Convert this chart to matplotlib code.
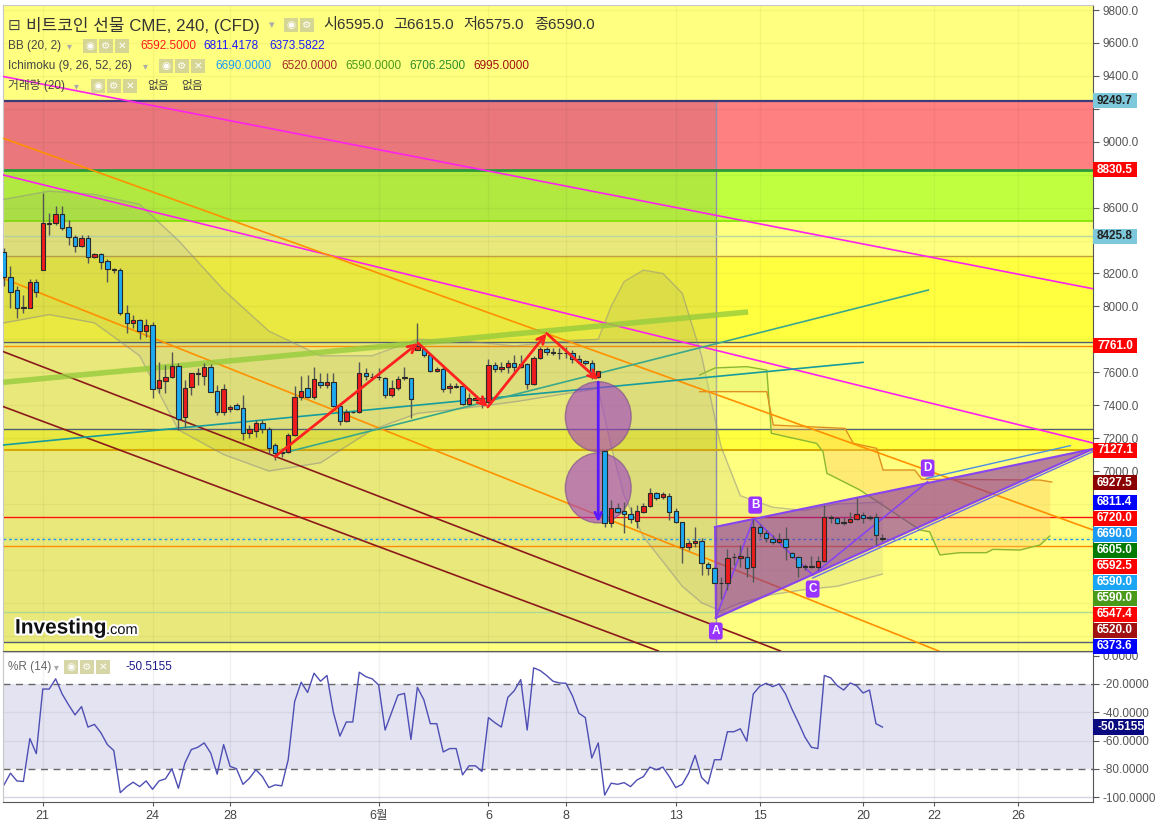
import numpy as np
import matplotlib.pyplot as plt
from matplotlib.patches import Rectangle, Ellipse, Polygon
import matplotlib.patheffects as pe

plt.rcParams['font.family'] = ['Liberation Sans', 'Noto Sans CJK KR', 'DejaVu Sans']

# 4h candles, Bitcoin futures CME (index 1..137)
opens = [8332, 8176, 8099, 7995, 7988, 8146, 8221, 8504, 8504, 8559,
         8484, 8419, 8367, 8413, 8298, 8318, 8275, 8223, 8221, 7958,
         7897, 7917, 7852, 7887, 7502, 7548, 7569, 7638, 7326, 7508,
         7593, 7577, 7629, 7486, 7356, 7374, 7399, 7380, 7228, 7245,
         7289, 7253, 7158, 7113, 7117, 7218, 7447, 7502, 7447, 7542,
         7522, 7542, 7397, 7305, 7356, 7356, 7597, 7569, 7569, 7567,
         7461, 7502, 7565, 7563, 7735, 7739, 7705, 7607, 7617, 7502,
         7512, 7516, 7407, 7431, 7441, 7419, 7642, 7617, 7630, 7654,
         7630, 7648, 7526, 7684, 7739, 7725, 7715, 7715, 7715, 7678,
         7668, 7654, 7569, 7123, 6682, 6773, 6757, 6739, 6698, 6753,
         6787, 6864, 6840, 6848, 6757, 6692, 6536, 6561, 6575, 6433,
         6409, 6318, 6318, 6475, 6469, 6480, 6415, 6658, 6621, 6585,
         6571, 6585, 6500, 6475, 6415, 6419, 6419, 6453, 6723, 6712,
         6686, 6692, 6706, 6733, 6712, 6723, 6595]
highs = [8352, 8245, 8124, 8069, 8166, 8166, 8686, 8565, 8610, 8610,
         8524, 8433, 8433, 8433, 8326, 8322, 8286, 8231, 8231, 8008,
         7947, 7921, 7921, 7907, 7664, 7644, 7725, 7654, 7552, 7597,
         7623, 7654, 7650, 7522, 7528, 7401, 7411, 7461, 7279, 7309,
         7309, 7269, 7168, 7137, 7232, 7516, 7577, 7583, 7629, 7593,
         7593, 7593, 7411, 7374, 7360, 7664, 7623, 7593, 7623, 7573,
         7552, 7580, 7634, 7563, 7901, 7755, 7715, 7634, 7634, 7532,
         7532, 7522, 7472, 7461, 7456, 7678, 7664, 7664, 7674, 7705,
         7705, 7654, 7699, 7755, 7755, 7745, 7745, 7751, 7735, 7705,
         7674, 7674, 7609, 7123, 6824, 6803, 6813, 6783, 6793, 6803,
         6895, 6874, 6874, 6864, 6773, 6692, 6581, 6662, 6591, 6449,
         6419, 6358, 6524, 6500, 6550, 6540, 6706, 6678, 6642, 6611,
         6621, 6662, 6510, 6484, 6435, 6484, 6484, 6793, 6733, 6718,
         6723, 6753, 6834, 6753, 6733, 6743, 6615]
lows = [8124, 7988, 7927, 7957, 7988, 8059, 8221, 8433, 8494, 8464,
        8373, 8332, 8362, 8261, 8292, 8225, 8150, 8200, 7947, 7836,
        7866, 7800, 7816, 7441, 7471, 7471, 7563, 7249, 7269, 7461,
        7522, 7522, 7482, 7340, 7340, 7360, 7370, 7188, 7198, 7208,
        7228, 7107, 7066, 7087, 7107, 7212, 7431, 7441, 7435, 7502,
        7502, 7391, 7279, 7299, 7350, 7350, 7552, 7552, 7552, 7441,
        7451, 7490, 7553, 7320, 7735, 7694, 7603, 7603, 7482, 7472,
        7502, 7401, 7401, 7431, 7381, 7415, 7603, 7603, 7593, 7603,
        7624, 7496, 7522, 7678, 7705, 7705, 7678, 7684, 7654, 7654,
        7644, 7557, 7563, 6662, 6662, 6743, 6621, 6682, 6652, 6743,
        6779, 6824, 6828, 6702, 6682, 6439, 6520, 6540, 6368, 6368,
        6318, 6220, 6277, 6429, 6419, 6358, 6328, 6597, 6571, 6557,
        6561, 6459, 6469, 6358, 6399, 6409, 6399, 6449, 6682, 6678,
        6672, 6686, 6702, 6682, 6702, 6550, 6575]
closes = [8180, 8085, 7992, 7990, 8146, 8089, 8504, 8500, 8559, 8474,
          8419, 8367, 8413, 8298, 8318, 8271, 8225, 8221, 7958, 7897,
          7917, 7852, 7887, 7496, 7552, 7573, 7638, 7314, 7502, 7593,
          7591, 7629, 7482, 7356, 7496, 7390, 7374, 7233, 7253, 7289,
          7253, 7137, 7111, 7111, 7216, 7451, 7486, 7447, 7557, 7522,
          7542, 7397, 7303, 7356, 7358, 7597, 7577, 7569, 7569, 7461,
          7502, 7559, 7567, 7435, 7759, 7705, 7607, 7620, 7496, 7516,
          7512, 7407, 7441, 7441, 7419, 7642, 7617, 7630, 7654, 7630,
          7650, 7526, 7684, 7739, 7725, 7715, 7715, 7715, 7678, 7664,
          7654, 7569, 7605, 6682, 6773, 6753, 6739, 6706, 6757, 6787,
          6864, 6834, 6860, 6753, 6692, 6536, 6561, 6575, 6439, 6409,
          6318, 6320, 6469, 6477, 6484, 6409, 6658, 6621, 6591, 6571,
          6585, 6536, 6475, 6419, 6423, 6423, 6453, 6723, 6712, 6686,
          6692, 6706, 6737, 6712, 6723, 6611, 6590]

# Williams %R (14)
williams_r = [-91.4, -83.1, -88.6, -89.0, -58.6, -69.3, -23.6, -23.6, -16.4, -27.1,
              -34.8, -41.9, -36.0, -50.5, -48.6, -54.5, -62.9, -67.1, -96.9, -92.6,
              -89.5, -92.6, -88.6, -94.5, -88.6, -87.1, -80.0, -93.8, -76.0, -66.4,
              -64.8, -61.7, -68.8, -83.8, -62.9, -78.3, -80.0, -91.0, -86.7, -80.7,
              -85.5, -93.3, -91.4, -92.1, -73.6, -32.4, -18.8, -26.0, -12.4, -18.1,
              -14.0, -40.2, -56.9, -46.9, -46.9, -11.7, -14.8, -16.4, -20.7, -52.6,
              -40.2, -27.9, -26.7, -59.3, -22.4, -31.2, -48.1, -48.1, -68.1, -65.7,
              -65.7, -84.3, -77.9, -77.9, -81.9, -43.8, -47.4, -50.5, -29.5, -24.8,
              -16.9, -52.6, -8.6, -10.5, -14.0, -18.1, -19.3, -19.5, -28.3, -40.7,
              -43.8, -72.4, -61.7, -98.6, -90.2, -91.0, -89.8, -92.6, -87.9, -85.5,
              -78.8, -80.7, -78.8, -85.5, -93.3, -91.0, -83.1, -70.5, -86.2, -90.7,
              -73.6, -73.6, -53.8, -53.8, -51.7, -60.5, -27.1, -21.7, -19.5, -21.9,
              -20.0, -27.1, -37.9, -47.4, -57.6, -64.8, -65.7, -14.0, -15.7, -21.2,
              -24.3, -19.3, -21.2, -26.4, -24.3, -48.1, -50.5]

# Bollinger band (20, 2), read at some candles
bb_idx = [1, 8, 15, 22, 28, 35, 42, 50, 58, 65, 72, 80, 88, 93, 95, 97, 100, 103, 106, 109, 112, 115, 120, 125, 130, 137]
bb_upper = [8650, 8700, 8680, 8620, 8400, 8100, 7850, 7700, 7700, 7800, 7790, 7760, 7790, 7800,
            8000, 8150, 8220, 8200, 8080, 7700, 7150, 6850, 6780, 6760, 6800, 6811]
bb_lower = [7900, 7950, 7900, 7700, 7250, 7100, 7000, 7050, 7250, 7350, 7380, 7420, 7470, 7500,
            7150, 6850, 6600, 6450, 6300, 6200, 6150, 6200, 6250, 6280, 6300, 6374]

# Ichimoku leading spans (shifted forward)
span_a_idx = [108.7, 111.1, 116.0, 119.1, 119.8, 122.2, 126.8, 127.8, 128.4, 133.5, 142.8, 144.3,
              145.9, 149.0, 153.1, 154.1, 158.3, 161.4, 162.9]
span_a = [7583, 7626, 7634, 7613, 7229, 7208, 7168, 7117, 6986, 6885, 6642, 6631,
          6490, 6504, 6504, 6524, 6520, 6551, 6605]
span_b_idx = [108.7, 119.1, 120.1, 131.2, 132.5, 136.1, 137.1, 142.0, 143.1, 161.4, 163.2]
span_b = [7482, 7482, 7279, 7259, 7168, 7138, 7006, 7006, 6950, 6945, 6933]

# drawn trend lines (candle index, price)
magenta_hi = [(0.38, 9400), (169.6, 8107)]
magenta_lo = [(0.89, 8798), (169.6, 7170)]
orange_hi = [(0.89, 9021), (169.6, 6642)]
orange_lo = [(0.89, 8170), (145.7, 5907)]
brown_hi = [(0.89, 7725), (121.2, 5907)]
brown_lo = [(0.89, 7391), (102.3, 5907)]
teal_lo = [(0.89, 7158), (134.0, 7660)]
teal_hi = [(44.2, 7109), (144.1, 8099)]
green_thick = [(0.89, 7539), (116.2, 7966)]
zigzag = [(42.95, 7087), (65.1, 7777), (75.9, 7389), (85.0, 7836), (93.0, 7553)]
gap_arrow = [(93.0, 7540), (93.0, 6690)]
circle_centers = [(93.0, 7330), (93.0, 6897)]
wedge = [(111.06, 6660), (169.6, 7134), (111.2, 6107)]
abcd = {'A': (111.2, 6107), 'B': (117.1, 6713), 'C': (126.2, 6368), 'D': (144.0, 6935)}
abcd_label = {'A': (111.2, 6028), 'B': (117.3, 6793), 'C': (126.2, 6283), 'D': (144.0, 7018)}

# horizontal levels
levels = [(9249.7, '#3c3c78', 1.6), (8830.5, '#2a9a3a', 2.0), (8518.5, '#7fe000', 1.2),
          (8425.8, '#b8d8a0', 1.0), (8304, '#c0a040', 1.0), (7785, '#506070', 1.0),
          (7761, '#ff8c00', 1.0), (7253, '#506070', 1.0), (7127.1, '#d8a800', 1.5),
          (6720, '#ff1010', 1.0), (6547.4, '#ff8c00', 1.0), (6145, '#b0d890', 1.0),
          (5964, '#506070', 1.0)]

right_labels = [(9249.7, '9249.7', '#7ec8dc', '#222222'), (8830.5, '8830.5', '#ff0000', 'white'),
                (8425.8, '8425.8', '#7ec8dc', '#222222'), (7761.0, '7761.0', '#ff0000', 'white'),
                (7127.1, '7127.1', '#ff0000', 'white'), (6927.5, '6927.5', '#8b0000', 'white'),
                (6811.4, '6811.4', '#0000ff', 'white'), (6720.0, '6720.0', '#ff0000', 'white'),
                (6690.0, '6690.0', '#1a9af5', 'white'), (6605.0, '6605.0', '#007a00', 'white'),
                (6592.5, '6592.5', '#ff0000', 'white'), (6590.0, '6590.0', '#1aa6f5', 'white'),
                (6589.9, '6590.0', '#4a9a1a', 'white'), (6547.4, '6547.4', '#ff0000', 'white'),
                (6520.0, '6520.0', '#a01010', 'white'), (6373.6, '6373.6', '#0000ff', 'white')]

date_pos = [7, 24, 36, 59, 76, 88, 105, 118, 134, 145, 158]
date_labels = ['21', '24', '28', '6월', '6', '8', '13', '15', '20', '22', '26']

W, H = 1160, 823
fig = plt.figure(figsize=(W / 100, H / 100), dpi=100)
fig.patch.set_facecolor('white')
ax = fig.add_axes([3 / W, 1 - 651 / H, 1090 / W, 646 / H])
axr = fig.add_axes([3 / W, 1 - 802 / H, 1090 / W, 150 / H], sharex=ax)

x = np.arange(1, len(opens) + 1)
o = np.array(opens); c = np.array(closes); hi = np.array(highs); lo = np.array(lows)

ax.set_xlim(0.845, 169.6)
ax.set_ylim(5906.7, 9830.5)

# background bands
ax.set_facecolor('#ffff80')
ax.axhspan(8830.5, 9249.7, color='#ff8080', zorder=0, lw=0)
ax.axhspan(8518.5, 8830.5, color='#c0ff40', zorder=0, lw=0)
ax.axhspan(7785, 8304, color='#ffff40', zorder=0, lw=0)
ax.axhspan(7127.1, 7253, color='#ffff40', zorder=0, lw=0)
ax.add_patch(Rectangle((0.845, 5964), 111.2 - 0.845, 9249.7 - 5964, fc='#303050', alpha=0.1, ec='none', zorder=0.5))
ax.plot([111.2, 111.2], [5964, 9249.7], color='#9090b0', lw=1, zorder=0.6)

for p in np.arange(6000, 9801, 200):
    ax.axhline(p, color='#000000', alpha=0.04, lw=1, zorder=0.7)
for d in date_pos:
    ax.axvline(d, color='#000000', alpha=0.04, lw=1, zorder=0.7)

for lv, col, lw in levels:
    ax.axhline(lv, color=col, lw=lw, zorder=2)
ax.axhline(6590, color='#2299ee', lw=1, ls=(0, (2, 2)), zorder=2)

# Bollinger band
ax.fill_between(bb_idx, bb_lower, bb_upper, color='#808080', alpha=0.11, lw=0, zorder=3)
ax.plot(bb_idx, bb_upper, color='#8a8a8a', alpha=0.5, lw=1, zorder=3)
ax.plot(bb_idx, bb_lower, color='#8a8a8a', alpha=0.5, lw=1, zorder=3)

# Ichimoku cloud
g = np.linspace(108.7, 162.9, 500)
ga = np.interp(g, span_a_idx, span_a)
gb = np.interp(g, span_b_idx, span_b)
ax.fill_between(g, ga, gb, where=gb >= ga, color='#ffc860', alpha=0.35, lw=0, zorder=3)
ax.fill_between(g, ga, gb, where=ga > gb, color='#d8f070', alpha=0.35, lw=0, zorder=3)
ax.plot(span_a_idx, span_a, color='#8ab830', lw=1, zorder=3)
ax.plot(span_b_idx, span_b, color='#e09020', lw=1, zorder=3)


# trend lines
def seg(pts, **kw):
    ax.plot([p[0] for p in pts], [p[1] for p in pts], **kw)


seg(magenta_hi, color='#ff22ee', lw=1.2, zorder=4)
seg(magenta_lo, color='#ff22ee', lw=1.2, zorder=4)
seg(orange_hi, color='#ff9000', lw=1.2, zorder=4)
seg(orange_lo, color='#ff9000', lw=1.2, zorder=4)
seg(brown_hi, color='#8b1a1a', lw=1.2, zorder=4)
seg(brown_lo, color='#8b1a1a', lw=1.2, zorder=4)
seg(teal_lo, color='#169c9c', lw=1.2, zorder=4)
seg(teal_hi, color='#3aa88a', lw=1.2, zorder=4)
seg(green_thick, color='#96cc3c', lw=4, alpha=0.8, zorder=4, solid_capstyle='butt')

# wedge ABCD
ax.add_patch(Polygon(wedge, closed=True, fc='#7f1ea5', alpha=0.55, ec='none', zorder=5))
seg([wedge[0], wedge[1]], color='#8844ee', lw=1.5, zorder=5)
seg([wedge[2], wedge[1]], color='#8844ee', lw=1.5, zorder=5)
seg([wedge[0], wedge[2]], color='#8844ee', lw=1.2, zorder=5)
seg([(143.8, 6955), (166.1, 7154)], color='#4a90e2', lw=1, zorder=5)
seg([(126.2, 6350), (169.6, 7118)], color='#6a70e8', lw=1, zorder=5)
seg([abcd['A'], abcd['B'], abcd['C'], abcd['D']], color='#8844ee', lw=1.2, zorder=5)

# gap circles
for cc in circle_centers:
    ax.add_patch(Ellipse(cc, 10.2, 425, fc='#a03cc8', alpha=0.6, ec='#7a4a8a', lw=1, zorder=5))

# candles
up = c >= o
body_lo = np.minimum(o, c)
body_h = np.maximum(np.abs(c - o), 4)
ax.vlines(x, lo, hi, color='#555555', lw=1, zorder=6)
ax.bar(x, body_h, bottom=body_lo, width=0.68, color=np.where(up, '#ee1c1c', '#1eaaf0'),
       edgecolor='#2a2a2a', lw=0.8, zorder=7)

# red zigzag arrows
for a, b in zip(zigzag[:-1], zigzag[1:]):
    ax.annotate('', xy=b, xytext=a, zorder=8,
                arrowprops=dict(arrowstyle='->', color='#ff2020', lw=2, mutation_scale=14, shrinkA=0, shrinkB=0))
ax.annotate('', xy=gap_arrow[1], xytext=gap_arrow[0], zorder=8,
            arrowprops=dict(arrowstyle='->', color='#5a1aff', lw=2, mutation_scale=12, shrinkA=0, shrinkB=0))

for k, (lx, ly) in abcd_label.items():
    ax.text(lx, ly, k, ha='center', va='center', color='white', fontsize=8.5, weight='bold', zorder=9,
            bbox=dict(boxstyle='round,pad=0.22', fc='#9933ff', ec='none'))

# right price labels (stacked so they don't overlap)
box_y = []
prev = -1e9
for val, s, bg, fg in sorted(right_labels, key=lambda r: -r[0]):
    yp = H - ax.transData.transform((1, val))[1]
    yp = max(yp, prev + 16)
    prev = yp
    box_y.append(yp)
    fig.add_artist(Rectangle((1093 / W, 1 - (yp + 7.5) / H), 44 / W, 15 / H, transform=fig.transFigure,
                             fc=bg, ec='none', zorder=10))
    fig.text(1097 / W, 1 - yp / H, s, ha='left', va='center', color=fg, fontsize=8.5, weight='bold', zorder=11)

# axes styling
ticks = np.arange(6000, 9801, 200)
tick_labels = []
for v in ticks:
    tp = H - ax.transData.transform((1, v))[1]
    hidden = any(abs(tp - b) < 10.5 for b in box_y)
    tick_labels.append('' if hidden else '%.1f' % v)
ax.yaxis.tick_right()
ax.set_yticks(ticks)
ax.set_yticklabels(tick_labels)
ax.tick_params(axis='y', labelsize=8.5, labelcolor='#555555', color='#555555', length=4, pad=3)
ax.tick_params(axis='x', bottom=False, labelbottom=False)
for s in ['top', 'left']:
    ax.spines[s].set_color('#c8c8c8')
for s in ['right', 'bottom']:
    ax.spines[s].set_color('#555555')

# %R panel
axr.set_ylim(-103.5, 2.6)
axr.set_facecolor('white')
axr.axhspan(-80, -20, color='#e3e3f1', lw=0, zorder=0)
for v in [-40, -60, -100]:
    axr.axhline(v, color='#d6d6e4', lw=1, zorder=0.5)
for d in date_pos:
    axr.axvline(d, color='#000000', alpha=0.05, lw=1, zorder=0.5)
axr.axhline(-20, color='#666666', lw=1, ls=(0, (5, 4)), zorder=1)
axr.axhline(-80, color='#666666', lw=1, ls=(0, (5, 4)), zorder=1)
axr.plot(x, williams_r, color='#4e4eb4', lw=1, zorder=2)
axr.yaxis.tick_right()
axr.set_yticks([0, -20, -40, -60, -80, -100])
axr.set_yticklabels(['0.0000', '-20.0000', '-40.0000', '-60.0000', '-80.0000', '-100.0000'])
axr.tick_params(axis='y', labelsize=8.5, labelcolor='#555555', color='#555555', length=4, pad=3)
axr.set_xticks(date_pos)
axr.set_xticklabels(date_labels)
axr.tick_params(axis='x', labelsize=9, labelcolor='#444444', color='#555555', length=3, pad=3)
for s in ['top', 'left']:
    axr.spines[s].set_color('#c8c8c8')
for s in ['right', 'bottom']:
    axr.spines[s].set_color('#555555')
yp = H - axr.transData.transform((1, williams_r[-1]))[1]
fig.add_artist(Rectangle((1093 / W, 1 - (yp + 8) / H), 51 / W, 16 / H, transform=fig.transFigure,
                         fc='#0a0a80', ec='none', zorder=10))
fig.text(1097 / W, 1 - yp / H, '-50.5155', ha='left', va='center', color='white', fontsize=8.5,
         weight='bold', zorder=11)


# header legend
def txt(xp, yp, s, **kw):
    fig.text(xp / W, 1 - yp / H, s, va='center', ha='left', **kw)


def icons(xp, yp, n):
    glyphs = ['◉', '⚙', '✕']
    for k in range(n):
        fig.add_artist(Rectangle(((xp + k * 16) / W, 1 - (yp + 7) / H), 14 / W, 14 / H,
                                 transform=fig.transFigure, fc='#cfcf98', ec='none', alpha=0.85, zorder=11))
        fig.text((xp + k * 16 + 7) / W, 1 - yp / H, glyphs[k], ha='center', va='center', color='white',
                 fontsize=7.5, family='DejaVu Sans', zorder=12)


txt(8, 25, '⊟', fontsize=11, color='#444444', family=['DejaVu Sans'])
txt(26, 25, '비트코인 선물 CME, 240, (CFD)', fontsize=12.2, color='#333333')
txt(269, 25, '▾', fontsize=8, color='#aaaaaa', family=['DejaVu Sans'])
icons(284, 25, 2)
for xp, s in [(323, '시6595.0'), (393, '고6615.0'), (463, '저6575.0'), (534, '종6590.0')]:
    txt(xp, 25, s, fontsize=11, color='#333333')

txt(8, 46, 'BB (20, 2)', fontsize=8.5, color='#444444')
txt(67, 46, '▾', fontsize=7, color='#aaaaaa', family=['DejaVu Sans'])
icons(83, 46, 3)
for xp, s, col in [(140, '6592.5000', '#ff1a1a'), (203, '6811.4178', '#1a1aff'), (269, '6373.5822', '#1a1aff')]:
    txt(xp, 46, s, fontsize=8.5, color=col)

txt(8, 66, 'Ichimoku (9, 26, 52, 26)', fontsize=8.5, color='#444444')
txt(143, 66, '▾', fontsize=7, color='#aaaaaa', family=['DejaVu Sans'])
icons(159, 66, 3)
for xp, s, col in [(215, '6690.0000', '#1a9af5'), (281, '6520.0000', '#a52a2a'), (345, '6590.0000', '#4a9a1a'),
                   (409, '6706.2500', '#2e8b2e'), (473, '6995.0000', '#a01010')]:
    txt(xp, 66, s, fontsize=8.5, color=col)

txt(8, 86, '거래량 (20)', fontsize=8.5, color='#444444')
txt(74, 86, '▾', fontsize=7, color='#aaaaaa', family=['DejaVu Sans'])
icons(91, 86, 3)
txt(147, 86, '없음', fontsize=8.5, color='#444444')
txt(181, 86, '없음', fontsize=8.5, color='#444444')

txt(8, 667, '%R (14)', fontsize=8.5, color='#666666')
txt(54, 667, '▾', fontsize=7, color='#aaaaaa', family=['DejaVu Sans'])
icons(64, 667, 3)
txt(126, 667, '-50.5155', fontsize=8.5, color='#1a1a8a')

logo = fig.text(15 / W, 1 - 628 / H, 'Investing', fontsize=15, weight='bold', color='#111111',
                va='center', ha='left', zorder=11)
logo.set_path_effects([pe.withStroke(linewidth=3, foreground='white')])
logo2 = fig.text(106 / W, 1 - 630 / H, '.com', fontsize=10.5, color='#111111', va='center', ha='left', zorder=11)
logo2.set_path_effects([pe.withStroke(linewidth=3, foreground='white')])

fig.savefig('out.png', dpi=100, facecolor='white')
